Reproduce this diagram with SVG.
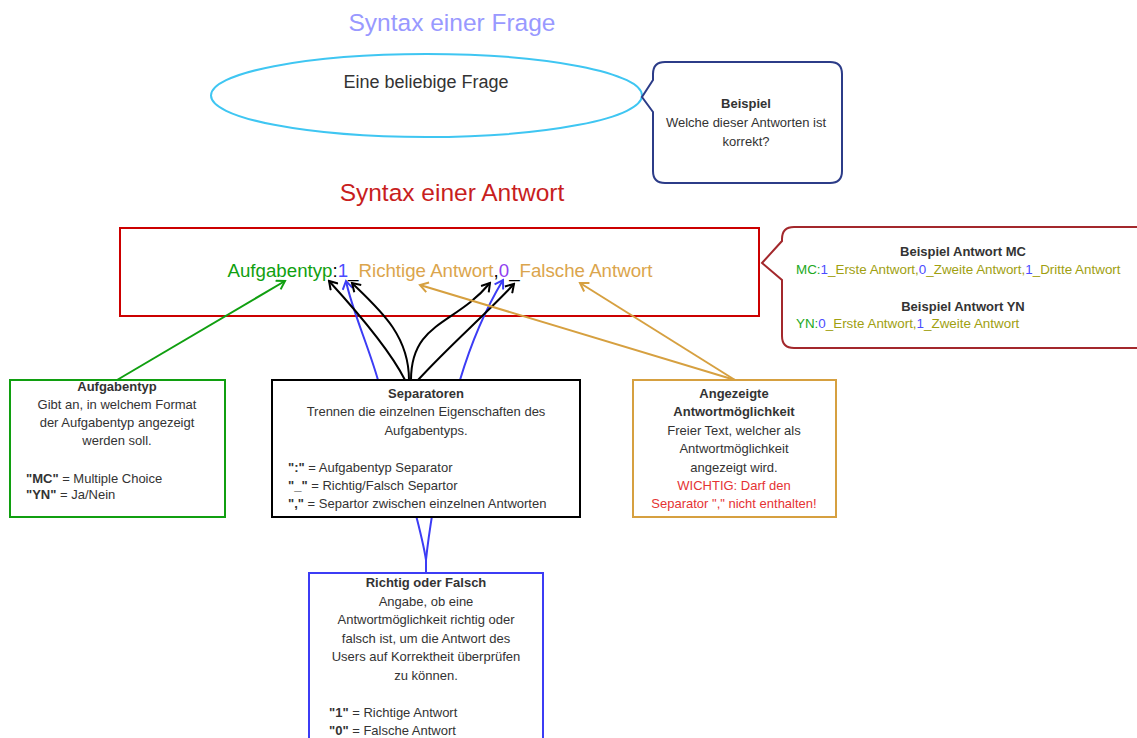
<svg xmlns="http://www.w3.org/2000/svg" width="1137" height="738" viewBox="0 0 1137 738">
<style>
text{font-family:"Liberation Sans",Arial,sans-serif;fill:#333333}
.s{font-size:13px}
.c{text-anchor:middle}
.b{font-weight:bold}
.t{font-size:24.5px;text-anchor:middle}
.ln{fill:none;stroke-width:2}
</style>
<defs>
<marker id="aBk" viewBox="-10 -6 12 12" refX="0" refY="0" markerWidth="12" markerHeight="12" markerUnits="userSpaceOnUse" orient="auto"><path d="M-8,-5 L0,0 L-8,5" fill="none" stroke="#000" stroke-width="2"/></marker>
<marker id="aBl" viewBox="-10 -6 12 12" refX="0" refY="0" markerWidth="12" markerHeight="12" markerUnits="userSpaceOnUse" orient="auto"><path d="M-8,-5 L0,0 L-8,5" fill="none" stroke="#3C3CF5" stroke-width="2"/></marker>
<marker id="aGr" viewBox="-10 -6 12 12" refX="0" refY="0" markerWidth="12" markerHeight="12" markerUnits="userSpaceOnUse" orient="auto"><path d="M-8,-5 L0,0 L-8,5" fill="none" stroke="#109F10" stroke-width="2"/></marker>
<marker id="aTn" viewBox="-10 -6 12 12" refX="0" refY="0" markerWidth="12" markerHeight="12" markerUnits="userSpaceOnUse" orient="auto"><path d="M-8,-5 L0,0 L-8,5" fill="none" stroke="#D6A040" stroke-width="2"/></marker>
</defs>
<rect width="1137" height="738" fill="#fff"/>

<g id="title-frage"><text class="t" x="452" y="31" style="fill:#9999FF">Syntax einer Frage</text></g>

<g id="frage">
<ellipse cx="426.5" cy="95.5" rx="215.5" ry="41.5" fill="#fff" stroke="#3FC6F2" stroke-width="2"/>
<text x="426" y="88" style="font-size:18px;text-anchor:middle">Eine beliebige Frage</text>
</g>

<g id="beispiel-frage">
<path d="M665,62 H830 Q842,62 842,74 V171 Q842,183 830,183 H665 Q653,183 653,171 V112 L642,97 L653,80 V74 Q653,62 665,62 Z" fill="#fff" stroke="#2C3C88" stroke-width="2"/>
<text class="s c b" x="746" y="108">Beispiel</text>
<text class="s c" x="746" y="127">Welche dieser Antworten ist</text>
<text class="s c" x="746" y="146">korrekt?</text>
</g>

<g id="title-antwort"><text class="t" x="452" y="201" style="fill:#C81E1E">Syntax einer Antwort</text></g>

<g id="antwort">
<rect x="120" y="228" width="639" height="88" fill="#fff" stroke="#CC0000" stroke-width="2"/>
<text x="440" y="277" style="font-size:18.7px;text-anchor:middle"><tspan style="fill:#10A010">Aufgabentyp</tspan><tspan style="fill:#000">:</tspan><tspan style="fill:#4B4BFF">1</tspan><tspan style="fill:#000">_</tspan><tspan style="fill:#DBA54C">Richtige Antwort</tspan><tspan style="fill:#000">,</tspan><tspan style="fill:#9040F0">0</tspan><tspan style="fill:#000">_</tspan><tspan style="fill:#DBA54C">Falsche Antwort</tspan></text>
</g>

<g id="beispiel-antwort">
<path d="M794,227 H1150 V348 H794 Q782,348 782,336 V280 L762,263 L782,241 V239 Q782,227 794,227 Z" fill="#fff" stroke="#A3282C" stroke-width="2"/>
<text class="s c b" x="963" y="256">Beispiel Antwort MC</text>
<text x="796" y="274" style="font-size:13.4px"><tspan style="fill:#22A822">MC:</tspan><tspan style="fill:#4B4BFF">1</tspan><tspan style="fill:#A0A010">_Erste Antwort,</tspan><tspan style="fill:#4B4BFF">0</tspan><tspan style="fill:#A0A010">_Zweite Antwort,</tspan><tspan style="fill:#4B4BFF">1</tspan><tspan style="fill:#A0A010">_Dritte Antwort</tspan></text>
<text class="s c b" x="963" y="311">Beispiel Antwort YN</text>
<text x="796" y="328" style="font-size:13.4px"><tspan style="fill:#22A822">YN:</tspan><tspan style="fill:#4B4BFF">0</tspan><tspan style="fill:#A0A010">_Erste Antwort,</tspan><tspan style="fill:#4B4BFF">1</tspan><tspan style="fill:#A0A010">_Zweite Antwort</tspan></text>
</g>

<g id="connectors">
<path class="ln" stroke="#109F10" d="M117,380 L285,281" marker-end="url(#aGr)"/>
<path class="ln" stroke="#3C3CF5" d="M426,573 L426,560 C420,520 392,430 378,380 C368,345 352,310 346,281" marker-end="url(#aBl)"/>
<path class="ln" stroke="#3C3CF5" d="M426,573 L426,560 C430,520 448,420 460,380 C472,340 488,305 503,280" marker-end="url(#aBl)"/>
<path class="ln" stroke="#000" d="M405,380 C390,350 360,315 329,281" marker-end="url(#aBk)"/>
<path class="ln" stroke="#000" d="M409,380 C409,335 380,310 352,283" marker-end="url(#aBk)"/>
<path class="ln" stroke="#000" d="M411,380 C411,322 455,325 490,283" marker-end="url(#aBk)"/>
<path class="ln" stroke="#000" d="M418,380 C450,345 485,315 514,284" marker-end="url(#aBk)"/>
<path class="ln" stroke="#D6A040" d="M735,380 L420,285" marker-end="url(#aTn)"/>
<path class="ln" stroke="#D6A040" d="M735,380 L580,283" marker-end="url(#aTn)"/>
</g>

<g id="aufgabentyp">
<rect x="10" y="380" width="215" height="137" fill="#fff" stroke="#109F10" stroke-width="2"/>
<text class="s c b" x="117" y="391">Aufgabentyp</text>
<text class="s c" x="117" y="409">Gibt an, in welchem Format</text>
<text class="s c" x="117" y="427">der Aufgabentyp angezeigt</text>
<text class="s c" x="117" y="445">werden soll.</text>
<text class="s" x="26" y="483"><tspan class="b">"MC"</tspan> = Multiple Choice</text>
<text class="s" x="26" y="499"><tspan class="b">"YN"</tspan> = Ja/Nein</text>
</g>

<g id="separatoren">
<rect x="272" y="380" width="308" height="137" fill="#fff" stroke="#000" stroke-width="2"/>
<text class="s c b" x="426" y="398">Separatoren</text>
<text class="s c" x="426" y="416">Trennen die einzelnen Eigenschaften des</text>
<text class="s c" x="426" y="435">Aufgabentyps.</text>
<text class="s" x="288" y="472"><tspan class="b">":"</tspan> = Aufgabentyp Separator</text>
<text class="s" x="288" y="490"><tspan class="b">"_"</tspan> = Richtig/Falsch Separtor</text>
<text class="s" x="288" y="508"><tspan class="b">","</tspan> = Separtor zwischen einzelnen Antworten</text>
</g>

<g id="antwortmoeglichkeit">
<rect x="633" y="380" width="203" height="137" fill="#fff" stroke="#D6A040" stroke-width="2"/>
<text class="s c b" x="734" y="398">Angezeigte</text>
<text class="s c b" x="734" y="416">Antwortmöglichkeit</text>
<text class="s c" x="734" y="435">Freier Text, welcher als</text>
<text class="s c" x="734" y="453">Antwortmöglichkeit</text>
<text class="s c" x="734" y="472">angezeigt wird.</text>
<text class="s c" x="734" y="490" style="fill:#E53333">WICHTIG: Darf den</text>
<text class="s c" x="734" y="508" style="fill:#E53333">Separator "," nicht enthalten!</text>
</g>

<g id="richtig-falsch">
<rect x="309" y="573" width="234" height="180" fill="#fff" stroke="#3C3CF5" stroke-width="2"/>
<text class="s c b" x="426" y="587">Richtig oder Falsch</text>
<text class="s c" x="426" y="606">Angabe, ob eine</text>
<text class="s c" x="426" y="624">Antwortmöglichkeit richtig oder</text>
<text class="s c" x="426" y="643">falsch ist, um die Antwort des</text>
<text class="s c" x="426" y="661">Users auf Korrektheit überprüfen</text>
<text class="s c" x="426" y="680">zu können.</text>
<text class="s" x="329" y="717"><tspan class="b">"1"</tspan> = Richtige Antwort</text>
<text class="s" x="329" y="735"><tspan class="b">"0"</tspan> = Falsche Antwort</text>
</g>
</svg>
